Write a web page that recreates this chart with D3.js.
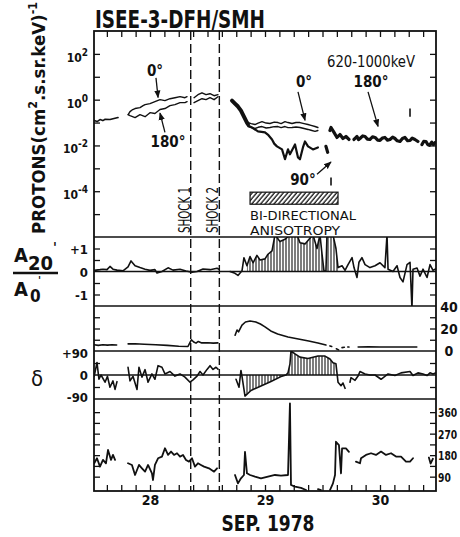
<!DOCTYPE html>
<html><head><meta charset="utf-8">
<script src="https://cdn.jsdelivr.net/npm/d3@7"></script>
<style>
html,body{margin:0;padding:0;background:#fff;}
svg{display:block;}
text{font-family:"DejaVu Sans Condensed","DejaVu Sans",sans-serif;fill:#111;}
</style></head><body>
<svg id="chart" width="460" height="537"></svg>
<script>
// ---------------- DATA ----------------
const xDomain = [27.513, 30.487];          // days of Sep 1978
const xTicks = d3.range(27.625, 30.49, 0.125);
const xLabels = [28, 29, 30];
const shockTimes = [28.354, 28.603];
const shockNames = ["SHOCK 1", "SHOCK 2"];

const fluxDomain = [1e-6, 1e3];
const fluxTicks = [1e-5,1e-4,1e-3,1e-2,1e-1,1e0,1e1,1e2];
const fluxLabels = [[1e2,"2"],[1e0,"0"],[1e-2,"-2"],[1e-4,"-4"]];

// proton flux, 620-1000 keV  [day, flux]
const fluxEarly = [[27.515,0.122],[27.54,0.11],[27.565,0.135],[27.59,0.122],[27.61,0.14],[27.652,0.135],[27.687,0.149],[27.722,0.165]];
const flux0 = [[27.81,0.22],[27.826,0.30],[27.85,0.37],[27.87,0.41],[27.913,0.45],[27.94,0.55],[27.957,0.61],[28.0,0.67],[28.043,0.82],[28.087,1.0],[28.13,0.91],[28.174,1.1],[28.217,1.22],[28.261,1.35],[28.304,1.22],[28.322,1.35],null,
  [28.383,1.22],[28.417,1.65],[28.452,2.0],[28.487,1.65],[28.522,1.82],[28.557,1.49],[28.591,1.65],null,
  [28.852,0.10],[28.88,0.09],[28.913,0.082],[28.94,0.095],[28.974,0.11],[29.01,0.095],[29.043,0.091],[29.08,0.105],[29.113,0.10],[29.14,0.09],[29.174,0.11],[29.2,0.1],[29.235,0.091],[29.27,0.1],[29.304,0.10],[29.34,0.09],[29.374,0.082],[29.4,0.075],[29.435,0.067],[29.46,0.061]];
const flux180 = [[27.81,0.22],[27.826,0.20],[27.87,0.165],[27.913,0.22],[27.957,0.18],[28.0,0.27],[28.043,0.25],[28.087,0.37],[28.13,0.41],[28.174,0.55],[28.217,0.61],[28.261,0.74],[28.304,0.74],[28.322,0.82],null,
  [28.383,0.74],[28.417,0.905],[28.452,1.10],[28.487,1.0],[28.522,1.22],[28.557,1.0],[28.591,1.35],null,
  [28.852,0.067],[28.88,0.06],[28.913,0.055],[28.94,0.062],[28.974,0.067],[29.01,0.058],[29.043,0.061],[29.08,0.066],[29.113,0.067],[29.14,0.06],[29.174,0.067],[29.2,0.06],[29.235,0.061],[29.27,0.064],[29.304,0.061],[29.34,0.055],[29.374,0.050],[29.4,0.046],[29.435,0.041],[29.46,0.045]];
const flux90 = [[28.852,0.074],[28.887,0.061],[28.939,0.041],[29.0,0.037],[29.03,0.028],[29.061,0.0182],[29.08,0.012],[29.104,0.0091],[29.148,0.0067],[29.174,0.0025],[29.2,0.0067],[29.217,0.0041],[29.261,0.011],[29.287,0.0030],[29.304,0.0025],[29.33,0.0082],[29.348,0.0149],[29.374,0.0091],[29.417,0.0067],[29.46,0.0082]];
const fluxDrop = [[28.713,0.905],[28.739,0.67],[28.765,0.50],[28.791,0.33],[28.817,0.18],[28.843,0.10],[28.852,0.085]];
const fluxMerged = [[29.53,0.0091],[29.545,0.005],null,[29.565,0.045],[29.574,0.061],[29.6,0.037],[29.626,0.0223],[29.652,0.030],[29.678,0.0201],[29.704,0.0246],[29.73,0.0182],null,
  [29.774,0.0182],[29.79,0.022],[29.8,0.0246],[29.813,0.018],[29.826,0.0201],[29.85,0.026],[29.87,0.0246],[29.89,0.019],[29.913,0.0182],[29.935,0.024],[29.957,0.0223],[29.98,0.017],[30.0,0.0165],[30.02,0.021],[30.043,0.0223],[30.065,0.017],[30.087,0.0182],[30.11,0.023],[30.13,0.0201],[30.15,0.016],[30.174,0.0149],[30.195,0.02],[30.217,0.0223],[30.24,0.016],[30.261,0.0165],[30.28,0.021],[30.304,0.0182],[30.33,0.0149],null,
  [30.365,0.011],[30.38,0.015],[30.4,0.0149],[30.415,0.011],[30.43,0.0100],[30.45,0.014],[30.465,0.011],[30.48,0.0135]];
const fluxMarks = [[29.574,1.8e-4,4e-4],[30.261,0.18,0.41]];

// A20'/A0'
const anisoDomain = [-1.5, 1.5];
const anisoTicks = [-1,-0.5,0.5,1];
const anisoLabels = [[1,"+1"],[0,"0"],[-1,"-1"]];
const aniso = [[27.515,0.05],[27.565,0.08],[27.591,0.1],[27.626,0.08],[27.652,0.22],[27.678,0.1],[27.713,0.06],[27.765,0.03],[27.809,0.2],[27.835,0.46],[27.87,0.25],[27.913,0.17],[27.957,0.1],[28.0,0.05],[28.043,0.08],[28.061,-0.07],[28.104,0.0],[28.157,0.16],[28.2,0.06],[28.261,0.1],[28.313,0.02],[28.365,-0.03],[28.409,0.0],[28.461,0.11],[28.522,0.08],[28.583,0.14],[28.6,0.1],null,
  [28.696,0.0],[28.739,-0.08],[28.765,-0.17],[28.8,0.03],[28.817,0.6],[28.843,0.25],[28.87,0.65],[28.896,0.38],[28.93,0.7],[28.957,0.5],[29.0,0.55],[29.026,0.75],[29.061,0.9],[29.087,1.6],[29.13,1.3],[29.174,1.4],[29.217,1.6],[29.278,1.6],[29.304,1.25],[29.348,1.2],[29.374,1.35],[29.417,1.6],[29.452,1.0],[29.478,1.6],[29.496,0.75],[29.513,0.02],[29.53,0.02],[29.539,1.6],[29.591,1.6],[29.617,1.0],[29.635,0.17],[29.67,0.25],[29.696,0.05],[29.722,0.3],[29.757,0.6],[29.774,0.17],[29.8,-0.26],[29.817,0.4],[29.843,0.6],[29.87,0.3],[29.913,0.17],[29.957,0.25],[30.0,0.38],[30.043,0.17],[30.061,1.6],[30.07,0.1],[30.113,0.0],[30.148,0.25],[30.174,-0.26],[30.2,-0.45],[30.235,0.3],[30.261,0.4],[30.278,-1.6],[30.287,0.1],[30.322,0.15],[30.348,-0.2],[30.374,0.1],[30.409,-0.26],[30.435,0.3],[30.461,0.05],[30.487,0.12]];
const anisoHatch = [28.83, 29.66];

// field magnitude panel (0-40)
const bDomain = [0, 40];
const bTicks = [10,20,30];
const bLabels = [[40,"40"],[20,"20"],[0,"0"]];
const bField = [[27.515,5.5],[27.55,5.0],[27.59,5.6],[27.63,5.2],[27.67,5.5],[27.71,5.3],null,
  [27.81,6.3],[27.87,6.5],[27.95,6.0],[28.05,5.5],[28.15,5.0],[28.25,4.2],[28.33,4.0],[28.345,7],[28.36,10],[28.38,8],[28.40,7],[28.42,8.5],[28.45,7.2],[28.50,7.4],[28.55,7.0],[28.59,7.2],null,
  [28.74,14],[28.757,18.7],[28.77,17],[28.79,21],[28.80,23],[28.83,25.8],[28.87,26.7],[28.92,25.8],[28.96,24],[29.0,21.5],[29.05,17.8],[29.11,15.1],[29.2,12.4],[29.29,10.7],[29.38,8.9],[29.46,7.1],[29.53,5.3],null,
  [29.565,4.5],[29.58,4.0],null,[29.62,2.0],[29.64,1.0],null,[29.67,3.0],[29.69,3.3],null,[29.72,3.6],[29.73,3.5],null,
  [29.81,3.6],[29.9,3.7],[30.0,3.5],[30.1,3.6],[30.2,3.5],[30.32,3.6]];

// delta
const deltaDomain = [-90, 90];
const deltaTicks = [-45, 45];
const deltaLabels = [[90,"+90"],[0,"0"],[-90,"-90"]];
const delta = [[27.515,-4],[27.539,47],[27.556,-16],[27.574,0],[27.609,-27],[27.63,-5],[27.652,-46],[27.678,-22],[27.696,-54],[27.713,-25],null,
  [27.809,29],[27.826,-22],[27.852,-5],[27.887,-54],[27.904,29],[27.93,-8],[27.957,20],[27.983,-27],[28.017,4],[28.043,-16],[28.07,35],[28.104,29],[28.13,4],[28.174,13],[28.217,-4],[28.261,4],[28.304,-8],[28.348,-27],[28.374,-18],[28.409,-4],[28.435,13],[28.461,0],[28.496,21],[28.522,35],[28.548,21],[28.574,29],[28.591,22],null,
  [28.748,-16],[28.774,-46],[28.791,17],[28.8,-5],[28.826,-79],[28.878,-58],[28.965,-41],[29.052,-24],[29.139,-6],[29.183,0],[29.2,8],[29.217,42],[29.226,90],[29.261,79],[29.304,67],[29.374,62],[29.461,71],[29.522,71],[29.565,60],[29.591,46],[29.617,42],[29.635,-27],[29.661,-40],[29.678,-30],[29.696,-50],null,
  [29.739,-27],[29.748,-10],[29.783,-20],[29.809,-4],[29.826,13],[29.87,4],[29.913,0],[29.957,0],[30.009,-16],[30.07,4],[30.13,-2],[30.183,8],[30.261,13],[30.287,-2],[30.33,8],[30.374,4],[30.409,-2],[30.435,8],[30.461,4],[30.487,8]];
const deltaHatch = [28.82, 29.63];

// phi
const phiDomain = [30, 415];
const phiTicks = [90,135,180,225,270,315,360];
const phiLabels = [[360,"360"],[270,"270"],[180,"180"],[90,"90"]];
const phi = [[27.515,146],[27.539,167],[27.565,132],[27.591,160],[27.617,146],[27.635,202],[27.661,160],[27.678,181],[27.696,160],null,
  [27.809,146],[27.843,139],[27.87,97],[27.904,139],[27.93,125],[27.957,111],[27.983,139],[28.017,104],[28.026,76],[28.043,139],[28.07,167],[28.104,174],[28.13,209],[28.157,181],[28.183,195],[28.209,181],[28.235,188],[28.261,174],[28.287,181],[28.313,160],[28.339,153],[28.365,167],[28.391,132],[28.417,146],[28.443,139],[28.47,132],[28.513,125],[28.557,111],[28.583,125],null,
  [28.739,97],[28.765,62],[28.791,83],[28.817,97],[28.826,194],[28.843,104],[28.87,97],[28.913,90],[28.965,83],[29.026,90],[29.087,97],[29.139,94],[29.2,97],[29.217,397],[29.226,55],[29.261,48],[29.313,43],[29.357,34],null,
  [29.461,38],[29.487,34],null,
  [29.565,34],[29.591,62],[29.609,97],[29.617,236],[29.643,222],[29.661,104],[29.67,208],[29.704,208],[29.73,194],null,
  [29.791,153],[29.826,146],[29.835,167],[29.878,181],[29.922,188],[29.965,181],[30.009,195],[30.052,181],[30.096,188],[30.139,174],[30.183,174],[30.226,153],[30.261,153],[30.287,167],null,
  [30.425,170],[30.44,145],[30.46,165]];

// ---------------- DRAW ----------------
const svg = d3.select("#chart");
const L = 94, R = 436;
const x = d3.scaleLinear().domain(xDomain).range([L, R]);
const yFlux  = d3.scaleLog().domain(fluxDomain).range([237, 31]);
const yA     = d3.scaleLinear().domain(anisoDomain).range([306, 237]);
const yB     = d3.scaleLinear().domain(bDomain).range([351, 306]);
const yD     = d3.scaleLinear().domain(deltaDomain).range([399, 351]);
const yP     = d3.scaleLinear().domain(phiDomain).range([491, 399]);
const INK = "#111";

const defs = svg.append("defs");
const vh = defs.append("pattern").attr("id","vh").attr("width",3).attr("height",6).attr("patternUnits","userSpaceOnUse");
vh.append("line").attr("x1",1).attr("x2",1).attr("y1",0).attr("y2",6).attr("stroke",INK).attr("stroke-width",1.1);
const dh = defs.append("pattern").attr("id","dh").attr("width",3.4).attr("height",6).attr("patternUnits","userSpaceOnUse").attr("patternTransform","rotate(40)");
dh.append("line").attr("x1",1).attr("x2",1).attr("y1",0).attr("y2",6).attr("stroke",INK).attr("stroke-width",1.3);
defs.append("marker").attr("id","arr").attr("viewBox","0 0 10 10").attr("refX",9).attr("refY",5)
  .attr("markerWidth",6).attr("markerHeight",6).attr("orient","auto-start-reverse")
  .append("path").attr("d","M0,1L10,5L0,9z").attr("fill",INK);

function clip(id, y0, y1){
  defs.append("clipPath").attr("id",id).append("rect").attr("x",L).attr("y",y0).attr("width",R-L).attr("height",y1-y0);
  return svg.append("g").attr("clip-path",`url(#${id})`);
}
function line(g, data, y, w){
  g.append("path").datum(data)
    .attr("d", d3.line().defined(d=>d!==null).x(d=>x(d[0])).y(d=>y(d[1])))
    .attr("fill","none").attr("stroke",INK).attr("stroke-width",w)
    .attr("stroke-linejoin","round").attr("stroke-linecap","round");
}
function hatch(g, data, y, range){
  const pts = data.filter(d=>d && d[0]>=range[0] && d[0]<=range[1]);
  g.append("path").datum(pts)
    .attr("d", d3.area().x(d=>x(d[0])).y0(y(0)).y1(d=>y(d[1])))
    .attr("fill","url(#vh)");
}
function sideTicks(y, ticks){
  const gl = svg.append("g").attr("transform",`translate(${L},0)`).call(d3.axisRight(y).tickValues(ticks).tickSize(6).tickFormat(""));
  const gr = svg.append("g").attr("transform",`translate(${R},0)`).call(d3.axisLeft(y).tickValues(ticks).tickSize(6).tickFormat(""));
  [gl,gr].forEach(g=>{g.select(".domain").remove(); g.selectAll("line").attr("stroke",INK).attr("stroke-width",1.3);});
}

// panel 1
const g1 = clip("c1", 31, 237);
line(g1, fluxEarly, yFlux, 1.6);
line(g1, flux0, yFlux, 1.4);
line(g1, flux180, yFlux, 1.4);
line(g1, flux90, yFlux, 2.2);
line(g1, fluxDrop, yFlux, 4);
line(g1, fluxMerged, yFlux, 3.2);
fluxMarks.forEach(m=>g1.append("line").attr("x1",x(m[0])).attr("x2",x(m[0])).attr("y1",yFlux(m[1])).attr("y2",yFlux(m[2])).attr("stroke",INK).attr("stroke-width",1.6));

// panel 2
const g2 = clip("c2", 237, 306);
hatch(g2, aniso, yA, anisoHatch);
line(g2, aniso, yA, 1.6);
// panel 3
const g3 = clip("c3", 306, 351);
line(g3, bField, yB, 1.6);
// panel 4
const g4 = clip("c4", 351, 399);
hatch(g4, delta, yD, deltaHatch);
line(g4, delta, yD, 1.6);
// panel 5
const g5 = clip("c5", 399, 491);
line(g5, phi, yP, 1.8);

// zero lines
[[yA(0)],[yD(0)]].forEach(v=>svg.append("line").attr("x1",L).attr("x2",R).attr("y1",v[0]).attr("y2",v[0]).attr("stroke",INK).attr("stroke-width",1.3));

// side ticks
sideTicks(yFlux, fluxTicks);
sideTicks(yA, anisoTicks);
sideTicks(yB, bTicks);
sideTicks(yD, deltaTicks);
sideTicks(yP, phiTicks);

// time ticks
const gt = svg.append("g").attr("transform","translate(0,31)").call(d3.axisBottom(x).tickValues(xTicks).tickSize(6).tickFormat(""));
const gb = svg.append("g").attr("transform","translate(0,491)").call(d3.axisTop(x).tickValues(xTicks).tickSize(6).tickFormat(""));
[gt,gb].forEach(g=>{g.select(".domain").remove(); g.selectAll("line").attr("stroke",INK).attr("stroke-width",1.3);});
const gx = svg.append("g").attr("transform","translate(0,491)").call(d3.axisBottom(x).tickValues(xLabels).tickSize(0).tickPadding(4).tickFormat(d3.format("d")));
gx.select(".domain").remove();
gx.selectAll("text").attr("font-size",14).attr("font-weight","bold").attr("fill",INK)
  .attr("font-family",'"DejaVu Sans Condensed","DejaVu Sans",sans-serif');

// frame & separators
svg.append("rect").attr("x",L).attr("y",31).attr("width",R-L).attr("height",460).attr("fill","none").attr("stroke",INK).attr("stroke-width",1.8);
[237,306,351,399].forEach(v=>svg.append("line").attr("x1",L).attr("x2",R).attr("y1",v).attr("y2",v).attr("stroke",INK).attr("stroke-width",1.6));

// shock lines
shockTimes.forEach((t,i)=>{
  svg.append("line").attr("x1",x(t)).attr("x2",x(t)).attr("y1",31).attr("y2",491)
    .attr("stroke",INK).attr("stroke-width",1.4).attr("stroke-dasharray","9,4");
  svg.append("text").attr("transform",`translate(${x(t)-1},233) rotate(-90)`)
    .attr("font-size",15).attr("textLength",46).attr("lengthAdjust","spacingAndGlyphs").text(shockNames[i]);
});

// left labels
fluxLabels.forEach(([v,e])=>{
  const t = svg.append("text").attr("x",88).attr("y",yFlux(v)+8).attr("text-anchor","end").attr("font-size",12).attr("font-weight","bold");
  t.append("tspan").text("10");
  t.append("tspan").attr("dy",-6).attr("font-size",10).text(e);
});
anisoLabels.forEach(([v,s])=>svg.append("text").attr("x",88).attr("y",yA(v)+5).attr("text-anchor","end").attr("font-size",13).attr("font-weight","bold").text(s));
deltaLabels.forEach(([v,s])=>svg.append("text").attr("x",88).attr("y",yD(v)+(v===-90?3:v===90?7:5)).attr("text-anchor","end").attr("font-size",13).attr("font-weight","bold").text(s));
// right labels
bLabels.forEach(([v,s])=>svg.append("text").attr("x",449).attr("y",yB(v)+(v===40?6:5)).attr("text-anchor","middle").attr("font-size",14).attr("font-weight","bold").text(s));
phiLabels.forEach(([v,s])=>svg.append("text").attr("x",438).attr("y",yP(v)+5).attr("font-size",12).attr("font-weight","bold")
  .attr("textLength", s.length*6.4).attr("lengthAdjust","spacingAndGlyphs").text(s));

// titles
svg.append("text").attr("x",95).attr("y",28).attr("font-size",24).attr("font-weight","bold")
  .attr("textLength",170).attr("lengthAdjust","spacingAndGlyphs").text("ISEE-3-DFH/SMH");
const yt = svg.append("text").attr("transform","translate(45,234) rotate(-90)").attr("font-size",18).attr("font-weight","bold")
  .attr("textLength",232).attr("lengthAdjust","spacingAndGlyphs");
yt.append("tspan").text("PROTONS(cm");
yt.append("tspan").attr("dy",-8).attr("font-size",12).text("2");
yt.append("tspan").attr("dy",8).text(".s.sr.keV)");
yt.append("tspan").attr("dy",-8).attr("font-size",12).text("-1");
svg.append("text").attr("x",268).attr("y",531).attr("text-anchor","middle").attr("font-size",22).attr("font-weight","bold")
  .attr("textLength",93).attr("lengthAdjust","spacingAndGlyphs").text("SEP. 1978");

// A20'/A0' label
const num = svg.append("text").attr("x",14).attr("y",262).attr("font-size",20).attr("font-weight","bold");
num.append("tspan").text("A");
num.append("tspan").attr("dy",8).text("20");
num.append("tspan").attr("dy",-18).attr("font-size",14).text("'");
svg.append("line").attr("x1",13).attr("x2",58).attr("y1",273).attr("y2",273).attr("stroke",INK).attr("stroke-width",2.4);
const den = svg.append("text").attr("font-size",20).attr("font-weight","bold");
den.append("tspan").attr("x",14).attr("y",296).text("A");
den.append("tspan").attr("x",30).attr("y",302).attr("font-size",17).text("0");
den.append("tspan").attr("x",38).attr("y",283.5).attr("font-size",11).text("'");
svg.append("text").attr("x",31).attr("y",386).attr("font-size",22).text("δ");

// annotations
svg.append("text").attr("x",327).attr("y",67).attr("font-size",15).attr("textLength",88).attr("lengthAdjust","spacingAndGlyphs").text("620-1000keV");
const ann = [
  {t:28.043, f:11, s:"0°", a:[[28.052,9.0],[28.07,1.25]]},
  {t:28.157, f:0.0082, s:"180°", a:[[28.13,0.037],[28.087,0.26]]},
  {t:29.339, f:3.67, s:"0°", a:[[29.287,2.2],[29.348,0.125]]},
  {t:29.922, f:3.67, s:"180°", a:[[29.896,2.2],[29.983,0.068]]},
  {t:29.33, f:1.8e-4, s:"90°", a:[[29.452,5.5e-4],[29.574,1.9e-3]]}
];
ann.forEach(a=>{
  svg.append("text").attr("x",x(a.t)).attr("y",yFlux(a.f)).attr("text-anchor","middle").attr("font-size",15).attr("font-weight","bold").text(a.s);
  svg.append("line").attr("x1",x(a.a[0][0])).attr("y1",yFlux(a.a[0][1])).attr("x2",x(a.a[1][0])).attr("y2",yFlux(a.a[1][1]))
    .attr("stroke",INK).attr("stroke-width",1.3).attr("marker-end","url(#arr)");
});
// bi-directional box
const bx0 = x(28.87), bx1 = x(29.635), by0 = yFlux(9.1e-5), by1 = yFlux(2.7e-5);
svg.append("rect").attr("x",bx0).attr("y",by0).attr("width",bx1-bx0).attr("height",by1-by0).attr("fill","url(#dh)").attr("stroke",INK).attr("stroke-width",1.2);
const bd = svg.append("text").attr("font-size",12.4);
bd.append("tspan").attr("x",bx0).attr("y",220).attr("textLength",106).attr("lengthAdjust","spacingAndGlyphs").text("BI-DIRECTIONAL");
bd.append("tspan").attr("x",bx0).attr("y",234.6).attr("textLength",90).attr("lengthAdjust","spacingAndGlyphs").text("ANISOTROPY");
</script></body></html>
